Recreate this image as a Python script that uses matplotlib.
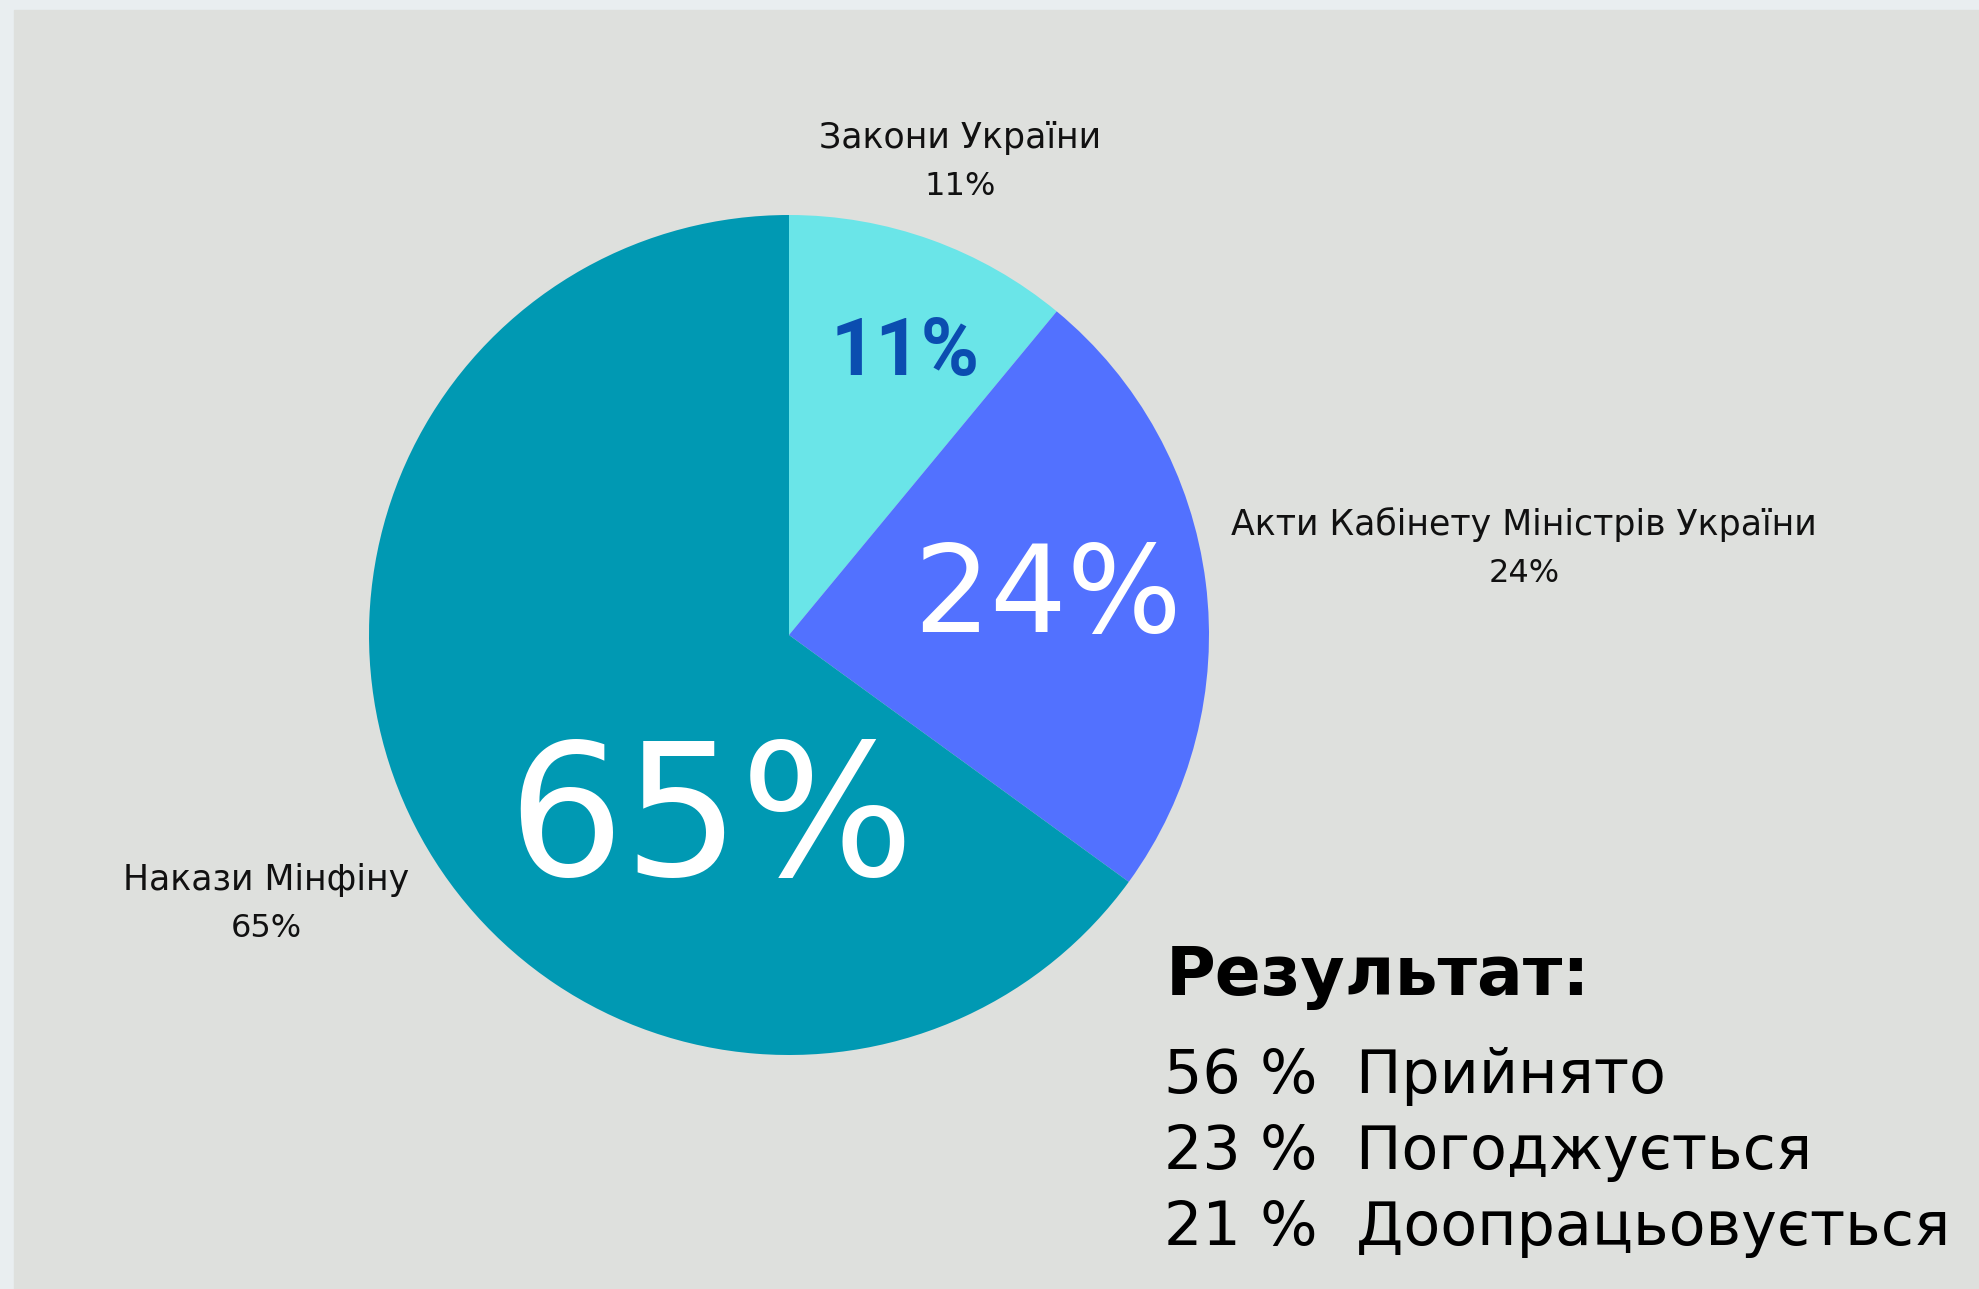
import matplotlib.pyplot as plt
from matplotlib.patches import Rectangle

plt.rcParams['font.family'] = ['DejaVu Sans']

# дані
categories = ['Закони України', 'Акти Кабінету Міністрів України', 'Накази Мінфіну']
shares = [11, 24, 65]
colors = ['#6AE5E8', '#5271FF', '#0099B3']

result_labels = ['Прийнято', 'Погоджується', 'Доопрацьовується']
result_values = [56, 23, 21]

W, H = 1979, 1289


def img_y(y):
    # координата зверху вниз -> знизу вверх
    return H - y


fig = plt.figure(figsize=(W / 100, H / 100), dpi=100, facecolor='#E9EEF0')
ax = fig.add_axes([0, 0, 1, 1])
ax.add_patch(Rectangle((14, 0), W - 14, H - 10, color='#DEE0DD', zorder=0))

ax.pie(shares, colors=colors, startangle=90, counterclock=False,
       center=(789, img_y(635)), radius=420, wedgeprops=dict(linewidth=0))
ax.set_xlim(0, W)
ax.set_ylim(0, H)
ax.set_aspect('auto')
ax.axis('off')

# підписи всередині секторів
inner = [(905, 375, 57, '#0B4DB0', 'bold', 'Roboto'),
         (1047, 632, 87, 'white', 'normal', 'DejaVu Sans'),
         (711, 875, 132, 'white', 'normal', 'DejaVu Sans')]
for v, (x, y, fs, c, wt, fam) in zip(shares, inner):
    ax.text(x, img_y(y), f'{v}%', ha='center', va='baseline', fontsize=fs,
            color=c, fontweight=wt, family=fam)

# зовнішні підписи
outer = [(960, 148), (1524, 535), (266, 890)]
for name, v, (x, y) in zip(categories, shares, outer):
    ax.text(x, img_y(y), name, ha='center', va='baseline', fontsize=25,
            color='#111111')
    ax.text(x, img_y(y + 47), f'{v}%', ha='center', va='baseline', fontsize=23,
            color='#111111')

# результат
ax.text(1166, img_y(995), 'Результат:', ha='left', va='baseline', fontsize=49,
        fontweight='bold', color='black')
for i, (v, lab) in enumerate(zip(result_values, result_labels)):
    ax.text(1164, img_y(1093 + 76 * i), f'{v} %  {lab}', ha='left', va='baseline',
            fontsize=43.5, color='black')

plt.savefig('out.png', dpi=100, facecolor=fig.get_facecolor())
